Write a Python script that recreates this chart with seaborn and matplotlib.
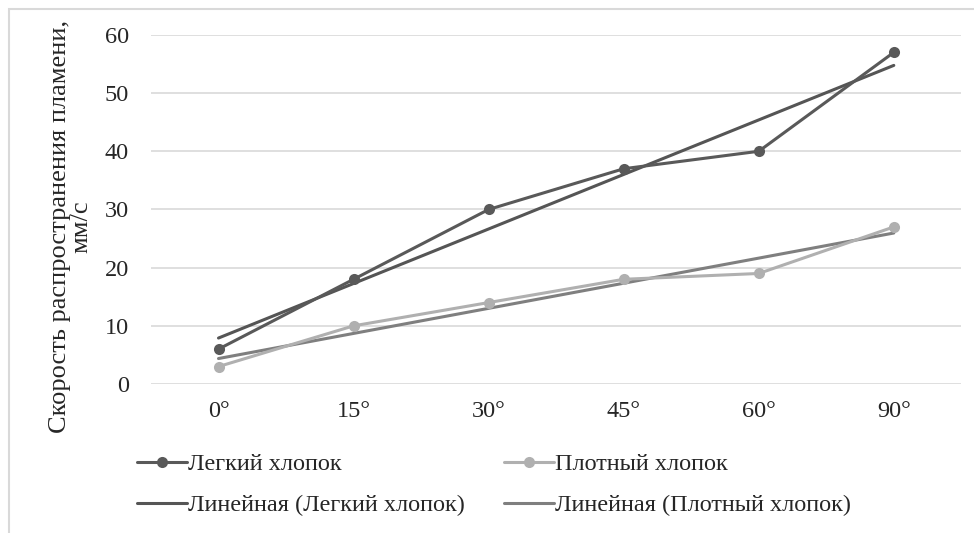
import numpy as np
import pandas as pd
import matplotlib.pyplot as plt
import seaborn as sns
from matplotlib.patches import Rectangle

angles = ['0°', '15°', '30°', '45°', '60°', '90°']
light_cotton = [6, 18, 30, 37, 40, 57]
dense_cotton = [3, 10, 14, 18, 19, 27]

sns.set_style('white')
plt.rcParams['font.family'] = ['Liberation Serif', 'DejaVu Serif']
FS = 17.5

df = pd.DataFrame({'pos': np.arange(len(angles)),
                   'light': light_cotton,
                   'dense': dense_cotton})

fig = plt.figure(figsize=(9.74, 5.33), dpi=100)
ax = fig.add_axes([0.155, 0.2795, 0.832, 0.655])

# linear trend lines, like Excel (x = 1..n)
xn = df['pos'] + 1
k1, b1 = np.polyfit(xn, df['light'], 1)
k2, b2 = np.polyfit(xn, df['dense'], 1)
df['trend_light'] = k1 * xn + b1
df['trend_dense'] = k2 * xn + b2

sns.lineplot(data=df, x='pos', y='trend_light', ax=ax, color='#555555', lw=2.2,
             label='Линейная (Легкий хлопок)', zorder=3)
sns.lineplot(data=df, x='pos', y='trend_dense', ax=ax, color='#7f7f7f', lw=2.2,
             label='Линейная (Плотный хлопок)', zorder=3)
sns.lineplot(data=df, x='pos', y='light', ax=ax, color='#595959', lw=2.2,
             marker='o', markersize=8, markeredgewidth=0, label='Легкий хлопок', zorder=4)
sns.lineplot(data=df, x='pos', y='dense', ax=ax, color='#b0b0b0', lw=2.2,
             marker='o', markersize=8, markeredgewidth=0, label='Плотный хлопок', zorder=4)

ax.set_xlim(-0.5, len(angles) - 0.5)
ax.set_ylim(0, 60)
ax.set_yticks(range(0, 61, 10))
ax.set_xticks(df['pos'])
ax.set_xticklabels(angles)
ax.tick_params(axis='both', length=0, labelsize=FS, colors='#262626')
ax.tick_params(axis='x', pad=12)
ax.tick_params(axis='y', pad=16)
ax.yaxis.grid(True, color='#d9d9d9', lw=1.2)
ax.set_axisbelow(True)
for s in ax.spines.values():
    s.set_visible(False)
ax.set_xlabel('')
ax.set_ylabel('Скорость распространения пламени,\nмм/с', fontsize=19,
              color='#262626', linespacing=1.0, multialignment='center')
ax.yaxis.set_label_coords(-0.072, 0.45)

h, l = ax.get_legend_handles_labels()
ax.get_legend().remove()
order = [2, 0, 3, 1]
fig.legend([h[i] for i in order], [l[i] for i in order], ncol=2,
           loc='upper left', bbox_to_anchor=(0.1407, 0.150), frameon=False,
           fontsize=FS, handlelength=2.05, handletextpad=0.05, columnspacing=1.6,
           labelspacing=0.78, borderaxespad=0, borderpad=0)

fig.patches.append(Rectangle((9 / 974, -0.1), 1.2, 1 - 9 / 533 + 0.1,
                             transform=fig.transFigure, fill=False,
                             edgecolor='#d9d9d9', lw=1.5))

fig.savefig('out.png', dpi=100)
